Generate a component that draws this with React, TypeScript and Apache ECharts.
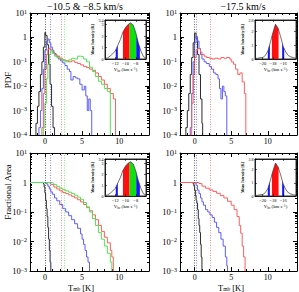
import { useEffect, useRef } from 'react';
import * as echarts from 'echarts';

type Pt = [number, number];

// ---------- Tick values ----------
const X_MAJOR = [0, 5, 10];
const X_MINOR = [-2, -1, 1, 2, 3, 4, 6, 7, 8, 9, 11, 12, 13, 14];

// ---------- PDF, -10.5 & -8.5 km/s (T_mb, PDF) ----------
const pdfA_black: Pt[] = [[-1.2, 1e-4], [-1.2, 3e-4], [-1.0, 1.5e-3], [-0.8, 6e-3], [-0.6, 0.03], [-0.4, 0.1], [-0.2, 0.4], [0.0, 1.6], [0.1, 1.2], [0.3, 0.5], [0.5, 0.08], [0.7, 0.012], [0.9, 1.5e-3], [1.1, 2e-4], [1.3, 1e-4]];
const pdfA_blue: Pt[] = [[-0.8, 1e-4], [-0.8, 2e-4], [-0.6, 1e-3], [-0.4, 8e-3], [-0.2, 0.05], [0.0, 0.3], [0.2, 0.7], [0.4, 0.85], [0.6, 0.6], [0.8, 0.4], [1.0, 0.3], [1.2, 0.22], [1.5, 0.17], [1.8, 0.13], [2.1, 0.11], [2.4, 0.09], [2.7, 0.07], [3.0, 0.05], [3.3, 0.04], [3.5, 0.018], [3.8, 0.025], [4.1, 0.022], [4.4, 0.02], [4.7, 0.012], [5.0, 0.007], [5.3, 0.01], [5.5, 0.004], [5.7, 1e-3], [5.9, 3e-3], [6.1, 1e-3], [6.3, 1e-4]];
const pdfA_red: Pt[] = [[-0.4, 1e-4], [-0.4, 2e-4], [-0.2, 5e-3], [0.0, 0.05], [0.2, 0.2], [0.4, 0.33], [0.6, 0.36], [0.8, 0.3], [1.0, 0.25], [1.3, 0.2], [1.6, 0.17], [2.0, 0.14], [2.4, 0.12], [2.8, 0.11], [3.2, 0.1], [3.6, 0.11], [4.0, 0.095], [4.4, 0.085], [4.8, 0.075], [5.2, 0.065], [5.6, 0.058], [6.0, 0.05], [6.4, 0.045], [6.8, 0.035], [7.2, 0.025], [7.6, 0.018], [8.0, 0.012], [8.4, 0.008], [8.8, 0.005], [9.2, 0.003], [9.5, 1e-4]];
const pdfA_green: Pt[] = [[-0.2, 1e-4], [-0.2, 2e-4], [0.0, 2e-3], [0.2, 0.02], [0.4, 0.08], [0.6, 0.2], [0.8, 0.3], [1.0, 0.22], [1.3, 0.17], [1.6, 0.15], [2.0, 0.13], [2.4, 0.11], [2.8, 0.1], [3.2, 0.12], [3.6, 0.14], [4.0, 0.13], [4.4, 0.17], [4.8, 0.16], [5.2, 0.13], [5.6, 0.1], [6.0, 0.06], [6.4, 0.04], [6.8, 0.025], [7.2, 0.016], [7.6, 0.012], [8.0, 0.008], [8.4, 0.006], [8.8, 1e-4]];
const markA: { black: number; blue: number; red: number; green: number } = { black: 0, blue: 0.7, red: 2.2, green: 2.6 };

// ---------- PDF, -17.5 km/s ----------
const pdfB_black: Pt[] = [[-1.2, 1e-4], [-1.2, 2e-4], [-1.0, 1e-3], [-0.8, 5e-3], [-0.6, 0.03], [-0.4, 0.15], [-0.2, 0.6], [0.0, 1.5], [0.2, 0.9], [0.4, 0.2], [0.6, 0.03], [0.8, 3e-3], [1.0, 3e-4], [1.1, 1e-4]];
const pdfB_blue: Pt[] = [[-0.6, 1e-4], [-0.6, 2e-4], [-0.4, 5e-3], [-0.2, 0.1], [0.0, 0.6], [0.2, 1.1], [0.4, 0.7], [0.6, 0.35], [0.8, 0.2], [1.0, 0.13], [1.3, 0.1], [1.6, 0.085], [2.0, 0.065], [2.3, 0.05], [2.6, 0.035], [2.9, 0.03], [3.2, 0.02], [3.4, 0.008], [3.6, 0.003], [3.8, 0.01], [4.0, 0.006], [4.2, 0.004], [4.4, 1e-4]];
const pdfB_red: Pt[] = [[-0.6, 1e-4], [-0.4, 2e-3], [-0.2, 0.03], [0.0, 0.15], [0.2, 0.3], [0.4, 0.35], [0.6, 0.33], [0.8, 0.25], [1.0, 0.2], [1.3, 0.17], [1.6, 0.15], [2.0, 0.14], [2.4, 0.13], [2.8, 0.14], [3.2, 0.13], [3.6, 0.15], [4.0, 0.14], [4.4, 0.15], [4.8, 0.13], [5.0, 0.1], [5.3, 0.08], [5.6, 0.05], [5.9, 0.03], [6.2, 0.035], [6.5, 0.015], [6.8, 0.005], [7.0, 1e-4]];
const markB: { black: number; blue: number; red: number } = { black: 0, blue: 0.25, red: 2.1 };

// ---------- Fractional area, -10.5 & -8.5 km/s ----------
const faA_black: Pt[] = [[-2, 1], [-0.3, 1], [-0.2, 0.9], [-0.1, 0.7], [0.0, 0.45], [0.1, 0.25], [0.2, 0.13], [0.3, 0.07], [0.4, 0.03], [0.5, 0.012], [0.6, 0.005], [0.7, 0.002], [0.8, 1e-3]];
const faA_blue: Pt[] = [[-2, 1], [-0.2, 1], [0.0, 0.97], [0.2, 0.9], [0.4, 0.75], [0.6, 0.6], [0.8, 0.48], [1.0, 0.4], [1.3, 0.3], [1.6, 0.24], [2.0, 0.18], [2.4, 0.13], [2.8, 0.1], [3.2, 0.075], [3.6, 0.055], [4.0, 0.04], [4.4, 0.028], [4.8, 0.018], [5.0, 0.012], [5.2, 0.008], [5.4, 0.005], [5.6, 0.003], [5.8, 0.002], [6.0, 1e-3]];
const faA_red: Pt[] = [[-2, 1], [0.0, 1], [0.4, 0.97], [0.8, 0.85], [1.2, 0.7], [1.6, 0.6], [2.0, 0.52], [2.4, 0.46], [2.8, 0.42], [3.2, 0.38], [3.6, 0.34], [4.0, 0.3], [4.4, 0.26], [4.8, 0.22], [5.2, 0.18], [5.6, 0.14], [6.0, 0.11], [6.4, 0.08], [6.8, 0.055], [7.2, 0.035], [7.6, 0.022], [8.0, 0.014], [8.4, 0.009], [8.8, 0.005], [9.0, 0.003], [9.2, 1e-3]];
const faA_green: Pt[] = [[-2, 1], [0.8, 1], [1.0, 0.95], [1.2, 0.85], [1.6, 0.72], [2.0, 0.64], [2.4, 0.57], [2.8, 0.52], [3.2, 0.47], [3.6, 0.42], [4.0, 0.37], [4.4, 0.32], [4.8, 0.27], [5.2, 0.21], [5.6, 0.15], [6.0, 0.1], [6.4, 0.06], [6.8, 0.035], [7.2, 0.02], [7.6, 0.012], [8.0, 0.007], [8.4, 0.004], [8.8, 0.002], [9.0, 1e-3]];

// ---------- Fractional area, -17.5 km/s ----------
const faB_black: Pt[] = [[-2, 1], [-0.3, 1], [-0.2, 0.9], [-0.1, 0.75], [0.0, 0.55], [0.1, 0.35], [0.2, 0.25], [0.3, 0.2], [0.4, 0.12], [0.5, 0.06], [0.6, 0.035], [0.7, 0.02], [0.8, 0.008], [0.9, 0.003], [1.0, 1e-3]];
const faB_blue: Pt[] = [[-2, 1], [-0.2, 1], [0.0, 0.95], [0.2, 0.8], [0.4, 0.55], [0.6, 0.42], [0.8, 0.3], [1.0, 0.22], [1.2, 0.17], [1.5, 0.12], [1.8, 0.1], [2.1, 0.08], [2.4, 0.065], [2.7, 0.045], [3.0, 0.03], [3.3, 0.02], [3.6, 0.012], [3.9, 0.007], [4.2, 0.003], [4.4, 0.0015], [4.5, 1e-3]];
const faB_red: Pt[] = [[-2, 1], [0.2, 1], [0.6, 0.92], [1.0, 0.75], [1.5, 0.64], [2.0, 0.56], [2.5, 0.5], [3.0, 0.43], [3.5, 0.36], [4.0, 0.3], [4.5, 0.23], [5.0, 0.17], [5.4, 0.12], [5.8, 0.07], [6.1, 0.035], [6.3, 0.019], [6.5, 0.007], [6.7, 0.003], [6.9, 1e-3]];

// ---------- Inset spectra (V_lsr km/s, mean intensity K) ----------
const specA: Pt[] = [[-14, 0.05], [-13.5, 0.1], [-13, 0.25], [-12.5, 0.45], [-12, 0.7], [-11.5, 1.2], [-11, 1.7], [-10.5, 2.35], [-10, 2.75], [-9.5, 3.0], [-9, 3.15], [-8.5, 2.95], [-8, 2.3], [-7.5, 1.4], [-7, 0.7], [-6.5, 0.2], [-6, 0.08]];
const specA_blueL: Pt[] = [[-11.9, 0.75], [-11.5, 1.2]];
const specA_red: Pt[] = [[-10.5, 2.35], [-10, 2.75], [-9.5, 3.0], [-9.2, 3.1]];
const specA_green: Pt[] = [[-9.2, 3.1], [-9, 3.15], [-8.5, 2.95], [-8, 2.3], [-7.9, 2.12]];
const specA_blueR: Pt[] = [[-7.9, 2.12], [-7.5, 1.4], [-7.2, 0.98]];
const specA_ticks = [-12, -10, -8];

const specB: Pt[] = [[-21.5, 0.05], [-21, 0.05], [-20.5, 0.1], [-20, 0.1], [-19.5, 0.25], [-19, 0.55], [-18.5, 1.2], [-18, 1.9], [-17.5, 2.5], [-17, 2.2], [-16.5, 1.6], [-16, 0.9], [-15.5, 0.5], [-15, 0.25], [-14.5, 0.15], [-14, 0.1], [-13.5, 0.05]];
const specB_blueL: Pt[] = [[-19.0, 0.55], [-18.6, 1.07]];
const specB_red: Pt[] = [[-18.2, 1.62], [-18, 1.9], [-17.5, 2.5], [-17, 2.2], [-16.9, 2.08]];
const specB_blueR: Pt[] = [[-16.2, 1.18], [-16, 0.9], [-15.8, 0.74]];
const specB_ticks = [-20, -18, -16];

const FONT = '"Liberation Serif", "DejaVu Serif", serif';
const COL = { black: '#2b2b2b', blue: '#5c5cff', red: '#ff5c5c', green: '#55e055' };
const FILL = { blue: '#1414ff', red: '#ff1010', green: '#10e010' };
const BLACK = '#000';

function supLabel(v: number) {
  const e = Math.round(Math.log10(v));
  if (e === 0) return '{b|1}';
  return `{b|10}{s|${e < 0 ? '\u2212' : ''}${Math.abs(e)}}`;
}
const richY = {
  b: { fontSize: 8.5, fontFamily: FONT, color: BLACK, verticalAlign: 'bottom' },
  s: { fontSize: 6, fontFamily: FONT, color: BLACK, verticalAlign: 'top' },
};
const minus = (v: number) => (v < 0 ? '\u2212' : '') + Math.abs(v);

type Line = { data: Pt[]; color: string; mark?: number };

function buildOption() {
  const grid: any[] = [];
  const xAxis: any[] = [];
  const yAxis: any[] = [];
  const series: any[] = [];
  const lineS = { show: true, onZero: false, lineStyle: { color: BLACK, width: 1 } };
  const noLine = { show: false, onZero: false };

  const addMain = (left: number, top: number, width: number, height: number, yMin: number, yMax: number, lines: Line[]) => {
    const gi = grid.length;
    grid.push({ left, top, width, height, show: false });
    const xi = xAxis.length;
    const baseX = { gridIndex: gi, type: 'value', min: -2, max: 14, splitLine: { show: false } };
    const majT = { show: true, inside: true, length: 4, customValues: X_MAJOR, lineStyle: { color: BLACK, width: 1 } };
    const minT = { show: true, inside: true, length: 2, customValues: X_MINOR, lineStyle: { color: BLACK, width: 1 } };
    xAxis.push({ ...baseX, position: 'bottom', axisLine: lineS, axisTick: majT, axisLabel: { show: true, customValues: X_MAJOR, fontFamily: FONT, fontSize: 8, color: BLACK, margin: 2 } });
    xAxis.push({ ...baseX, position: 'top', axisLine: lineS, axisTick: majT, axisLabel: { show: false } });
    xAxis.push({ ...baseX, position: 'bottom', axisLine: noLine, axisTick: minT, axisLabel: { show: false } });
    xAxis.push({ ...baseX, position: 'top', axisLine: noLine, axisTick: minT, axisLabel: { show: false } });

    const yi = yAxis.length;
    const lmin = Math.round(Math.log10(yMin));
    const lmax = Math.round(Math.log10(yMax));
    const minorY: number[] = [];
    for (let d = lmin; d < lmax; d++) for (let k = 2; k <= 9; k++) minorY.push(d + Math.log10(k));
    const baseY = { gridIndex: gi, type: 'log', logBase: 10, min: yMin, max: yMax, splitLine: { show: false } };
    yAxis.push({ ...baseY, position: 'left', axisLine: lineS, axisTick: { show: true, inside: true, length: 4, lineStyle: { color: BLACK } }, axisLabel: { show: true, formatter: supLabel, rich: richY, margin: 3 } });
    yAxis.push({ ...baseY, position: 'right', axisLine: lineS, axisTick: { show: true, inside: true, length: 4, lineStyle: { color: BLACK } }, axisLabel: { show: false } });
    const mY = { gridIndex: gi, type: 'value', min: lmin, max: lmax, splitLine: { show: false }, axisLine: noLine, axisLabel: { show: false }, axisTick: { show: true, inside: true, length: 2, customValues: minorY, lineStyle: { color: BLACK } } };
    yAxis.push({ ...mY, position: 'left' });
    yAxis.push({ ...mY, position: 'right' });

    lines.forEach((l) => {
      series.push({
        type: 'line', xAxisIndex: xi, yAxisIndex: yi, step: 'end', data: l.data, showSymbol: false,
        lineStyle: { color: l.color, width: 1 }, itemStyle: { color: l.color }, z: 2, silent: true,
        markLine: l.mark === undefined ? undefined : {
          silent: true, symbol: ['none', 'none'], label: { show: false },
          lineStyle: { color: l.color, type: [1, 1.5], width: 0.8, opacity: 0.9 },
          data: [{ xAxis: l.mark }],
        },
      });
    });
  };

  const addInset = (left: number, top: number, width: number, height: number, xMin: number, xMax: number, ticks: number[], yMax: number, spec: Pt[], fills: { data: Pt[]; color: string }[]) => {
    const gi = grid.length;
    grid.push({ left, top, width, height, show: true, backgroundColor: '#fff', borderColor: BLACK, borderWidth: 0.8, z: 10 });
    const xi = xAxis.length;
    const tk = { show: true, inside: true, length: 2, customValues: ticks, lineStyle: { color: BLACK, width: 0.6 } };
    const lineT = { show: true, onZero: false, lineStyle: { color: BLACK, width: 0.8 } };
    xAxis.push({
      gridIndex: gi, type: 'value', min: xMin, max: xMax, position: 'bottom', z: 12, splitLine: { show: false },
      axisLine: lineT, axisTick: tk,
      axisLabel: { show: true, customValues: ticks, formatter: minus, fontFamily: FONT, fontSize: 4.5, color: BLACK, margin: 1.5 },
      name: '{a|V}{s|lsr}{a| (km s}{p|\u22121}{a|)}', nameLocation: 'middle', nameGap: 8,
      nameTextStyle: { rich: { a: { fontSize: 4.8, fontFamily: FONT, color: BLACK }, s: { fontSize: 3.2, fontFamily: FONT, color: BLACK, verticalAlign: 'bottom' }, p: { fontSize: 3.2, fontFamily: FONT, color: BLACK, verticalAlign: 'top' } } },
    });
    xAxis.push({ gridIndex: gi, type: 'value', min: xMin, max: xMax, position: 'top', z: 12, splitLine: { show: false }, axisLine: lineT, axisTick: tk, axisLabel: { show: false } });
    const yi = yAxis.length;
    const ytk = { show: true, inside: true, length: 2, lineStyle: { color: BLACK, width: 0.6 } };
    yAxis.push({
      gridIndex: gi, type: 'value', min: 0, max: yMax, interval: 1, position: 'left', z: 12, splitLine: { show: false },
      axisLine: lineT, axisTick: ytk,
      axisLabel: { show: true, fontFamily: FONT, fontSize: 4, color: BLACK, margin: 1.5 },
      name: 'Mean Intensity [K]', nameLocation: 'middle', nameGap: 5, nameRotate: 90,
      nameTextStyle: { fontSize: 3.8, fontFamily: FONT, color: BLACK, fontWeight: 'bold' },
    });
    yAxis.push({ gridIndex: gi, type: 'value', min: 0, max: yMax, interval: 1, position: 'right', z: 12, splitLine: { show: false }, axisLine: lineT, axisTick: ytk, axisLabel: { show: false } });
    fills.forEach((f) => {
      series.push({ type: 'line', xAxisIndex: xi, yAxisIndex: yi, data: f.data, showSymbol: false, silent: true, z: 11, lineStyle: { width: 0, color: f.color }, areaStyle: { color: f.color, opacity: 1 } });
    });
    series.push({ type: 'line', xAxisIndex: xi, yAxisIndex: yi, data: spec, showSymbol: false, silent: true, z: 13, lineStyle: { width: 0.7, color: '#333' } });
  };

  // Top panels (PDF)
  addMain(30, 13, 119, 122, 1e-4, 10, [
    { data: pdfA_black, color: COL.black, mark: markA.black },
    { data: pdfA_blue, color: COL.blue, mark: markA.blue },
    { data: pdfA_red, color: COL.red, mark: markA.red },
    { data: pdfA_green, color: COL.green, mark: markA.green },
  ]);
  addMain(180, 13, 117, 122, 1e-4, 10, [
    { data: pdfB_black, color: COL.black, mark: markB.black },
    { data: pdfB_blue, color: COL.blue, mark: markB.blue },
    { data: pdfB_red, color: COL.red, mark: markB.red },
  ]);
  // Bottom panels (fractional area)
  addMain(30, 153, 119, 118, 1e-3, 10, [
    { data: faA_black, color: COL.black, mark: markA.black },
    { data: faA_blue, color: COL.blue, mark: markA.blue },
    { data: faA_red, color: COL.red, mark: markA.red },
    { data: faA_green, color: COL.green, mark: markA.green },
  ]);
  addMain(180, 153, 117, 118, 1e-3, 10, [
    { data: faB_black, color: COL.black, mark: markB.black },
    { data: faB_blue, color: COL.blue, mark: markB.blue },
    { data: faB_red, color: COL.red, mark: markB.red },
  ]);

  const fillsA = [
    { data: specA_blueL, color: FILL.blue }, { data: specA_red, color: FILL.red },
    { data: specA_green, color: FILL.green }, { data: specA_blueR, color: FILL.blue },
  ];
  const fillsB = [
    { data: specB_blueL, color: FILL.blue }, { data: specB_red, color: FILL.red }, { data: specB_blueR, color: FILL.blue },
  ];
  addInset(105, 20, 41, 39, -14, -6, specA_ticks, 3.4, specA, fillsA);
  addInset(255, 20, 41, 39, -21.5, -13.5, specB_ticks, 2.8, specB, fillsB);
  addInset(105, 159, 41, 37, -14, -6, specA_ticks, 3.4, specA, fillsA);
  addInset(255, 159, 41, 37, -21.5, -13.5, specB_ticks, 2.8, specB, fillsB);

  const txt = (x: number, y: number, text: string, size: number, rotation = 0, rich?: any) => ({
    type: 'text', x, y, rotation, z: 20,
    style: { text, fontSize: size, fontFamily: FONT, fill: BLACK, align: 'center', verticalAlign: 'middle', rich },
  });
  const tmbRich = {
    a: { fontSize: 8.5, fontFamily: FONT, fill: BLACK, color: BLACK },
    s: { fontSize: 5.5, fontFamily: FONT, fill: BLACK, color: BLACK, verticalAlign: 'bottom' },
  };
  const graphic = [
    txt(85, 6, '\u221210.5 & \u22128.5 km/s', 10),
    txt(243, 6, '\u221217.5 km/s', 10),
    txt(8, 80, 'PDF', 9, Math.PI / 2),
    txt(8, 192, 'Fractional Area', 9, Math.PI / 2),
    txt(81, 287.5, '{a|T}{s|mb}{a| [K]}', 8.5, 0, tmbRich),
    txt(231, 287.5, '{a|T}{s|mb}{a| [K]}', 8.5, 0, tmbRich),
  ];

  return { animation: false, backgroundColor: '#fff', grid, xAxis, yAxis, series, graphic };
}

export default function App() {
  const ref = useRef<HTMLDivElement>(null);
  useEffect(() => {
    if (!ref.current) return;
    const chart = echarts.init(ref.current, undefined, { renderer: 'svg' });
    chart.setOption(buildOption() as any);
    return () => chart.dispose();
  }, []);
  return <div ref={ref} style={{ position: 'absolute', left: 0, top: 0, width: 299, height: 292 }} />;
}
